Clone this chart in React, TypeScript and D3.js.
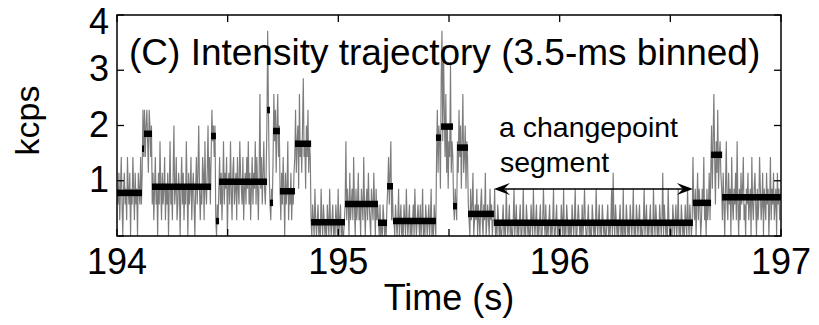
import React from 'react';
import * as d3 from 'd3';

// ---- data ----
const BIN_S = 0.0035; // 3.5-ms bins
const T_START = 194;
const xTicks = [194, 194.5, 195, 195.5, 196, 196.5, 197];
const xTickLabels = ['194', '', '195', '', '196', '', '197'];
const yTicks = [0, 1, 2, 3, 4];
const yTickLabels = ['', '1', '2', '3', '4'];

// photon counts per 3.5-ms bin (kcps = counts / 3.5)
const countsA = [
  3,2,4,1,3,5,2,0,3,4,2,3,1,5,3,2,4,0,3,2,5,3,1,4,2,3,0,4,3,2,5,2,
  4,8,5,
  8,5,7,8,6,4,8,7,5,7,
  2,4,1,3,5,2,3,0,4,2,6,3,1,4,2,3,5,1,3,2,4,0,3,6,2,3,1,4,7,2,3,5,1,2,4,3,0,3,5,2,
  4,1,3,2,6,3,0,4,2,3,5,1,3,4,2,0,3,5,2,4,7,3,1,3,2,5,4,1,6,3,2,4,7,3,5,2,
  5,8,6,7,5,7,
  1,0,2,1,
  3,5,2,4,1,3,6,2,4,3,5,0,3,4,2,6,3,1,4,5,2,3,4,1,5,3,2,6,4,3,2,5,1,3,4,2,5,3,6,2,
  4,1,3,5,2,4,3,6,2,5,3,1,4,9,3,5,2,4,6,3,2,4,
  7,13,8,4,
  2,1,3,2,
  5,9,6,8,4,7,9,5,7,
  3,1,4,2,5,3,0,4,2,3,6,1,3,2,4,1,3,2,4,
  5,8,4,6,7,3,9,5,6,4,7,10,5,6,3,7,5,8,4,6,5,
];
const countsB = [
  1,0,2,1,0,3,1,0,1,2,0,1,0,3,1,0,2,1,0,1,0,2,1,0,3,1,0,1,2,0,1,0,2,1,0,3,0,1,2,0,1,0,0,1,
  2,6,1,3,2,0,4,1,2,3,1,5,2,0,3,1,2,4,1,2,0,3,2,1,5,2,0,2,3,1,4,2,1,0,3,2,1,4,2,0,3,1,2,
  1,0,2,0,1,0,2,1,0,1,0,2,
  3,5,2,4,6,1,3,1,
  1,0,2,1,0,1,3,0,1,2,0,1,0,2,1,0,3,1,0,1,2,0,1,0,1,2,0,3,1,0,1,2,1,0,2,0,1,3,0,1,
  0,2,1,0,1,2,0,1,3,0,1,0,2,1,0,
  5,8,4,7,6,3,10,
  13,6,12,8,5,9,4,7,3,6,5,11,4,6,5,
  2,1,3,2,1,
  6,4,8,5,7,3,6,9,4,5,7,3,6,5,
  2,1,0,3,1,2,4,0,1,2,1,3,0,2,1,0,2,3,1,0,2,1,4,0,1,2,1,0,3,1,2,0,1,
];
const countsC = [
  1,3,0,1,0,2,1,0,1,0, 0,1,2,0,1,0,3,1,0,1, 2,0,1,0,0,1,3,0,1,2, 0,1,0,1,2,0,0,1,3,0,
  1,0,2,1,0,1,0,0,2,1, 0,3,1,0,1,2,0,1,0,1, 2,0,0,1,3,1,0,2,0,1, 0,1,2,0,1,0,1,3,0,0,
  1,2,0,1,0,1,0,2,1,0, 3,0,1,0,2,1,0,1,0,1, 0,2,1,0,1,3,0,0,1,2, 1,0,1,0,2,0,1,3,1,0,
  0,1,2,0,1,0,0,2,1,0, 1,0,3,1,0,1,2,0,1,0, 2,1,0,1,0,0,1,2,0,1, 0,1,3,0,4,1,0,2,1,0,
  1,0,1,2,0,1,0,3,0,1, 0,2,1,0,1,0,2,1,0,1, 3,0,1,0,2,1,0,1,2,0, 1,0,0,1,3,0,1,2,0,1,
  0,1,2,0,1,0,3,1,0,2, 1,0,1,0,2,1,0,1,4,0, 2,1,0,1,0,3,1,0,1,0, 0,2,1,0,1,2,0,1,3,0,
  1,0,2,1,0,1,0,2,1,0, 3,1,0,2,1,0,1,
];
const countsD = [
  5,2,1,3,0,2,4,1,3,2,0,1,3,2,5,1,2,0,3,1,2,4,1,
  4,7,3,6,9,5,2,6,4,8,3,5,6,4,
  3,1,4,2,0,3,6,2,1,4,2,3,0,5,2,1,3,2,4,1,6,2,0,3,1,4,2,3,5,1,2,0,3,2,4,1,2,3,0,5,
  2,1,3,4,2,0,3,1,2,5,3,1,2,4,0,3,2,1,4,2,3,0,2,5,1,3,2,4,1,2,3,0,4,2,3,1,
];

// changepoint times (s) and the fitted intensity level of each segment (kcps)
const changeTimes = [
  194.000, 194.113, 194.122, 194.158, 194.425, 194.447, 194.461, 194.678, 194.691,
  194.705, 194.736, 194.804, 194.877, 195.030, 195.179, 195.220, 195.247, 195.441,
  195.464, 195.518, 195.536, 195.586, 195.703, 196.602, 196.684, 196.734, 197.000,
];
const levels = [
  0.78, 1.58, 1.85, 0.89, 1.81, 0.27, 0.98, 2.28, 0.6, 1.9, 0.81, 1.67, 0.25,
  0.58, 0.24, 0.9, 0.27, 1.78, 1.98, 0.54, 1.6, 0.4, 0.24, 0.6, 1.47, 0.7,
];
const highlightSegment = 22; // "a changepoint segment"
const arrowLevel = 0.85;

const W = 819;
const H = 325;
const M = { left: 117, right: 781, top: 15, bottom: 236 };
const FONT = '"Liberation Sans", Arial, Helvetica, sans-serif';

export default function App() {
  const x = d3.scaleLinear().domain([194, 197]).range([M.left, M.right]);
  const y = d3.scaleLinear().domain([0, 4]).range([M.bottom, M.top]);

  const counts = [...countsA, ...countsB, ...countsC, ...countsD];
  const trace = counts.map((c, i) => ({ t: T_START + (i + 0.5) * BIN_S, v: c / (BIN_S * 1000) }));
  const line = d3.line<{ t: number; v: number }>().x(d => x(d.t)).y(d => y(d.v));

  const segs = levels.map((lv, i) => ({ t0: changeTimes[i], t1: changeTimes[i + 1], v: lv }));

  const ax0 = x(changeTimes[highlightSegment]);
  const ax1 = x(changeTimes[highlightSegment + 1]);
  const ay = y(arrowLevel);
  const head = (tipX: number, dir: number) => {
    const L = 16, hw = 6, notch = 10;
    return `M${tipX},${ay} L${tipX + dir * L},${ay - hw} L${tipX + dir * notch},${ay} L${tipX + dir * L},${ay + hw} Z`;
  };

  const tickLen = 7;

  return (
    <svg width={W} height={H} style={{ position: 'absolute', left: 0, top: 0, background: '#fff' }}
      fontFamily={FONT}>
      <defs>
        <clipPath id="plot">
          <rect x={M.left} y={M.top} width={M.right - M.left} height={M.bottom - M.top} />
        </clipPath>
      </defs>
      <rect width={W} height={H} fill="#fff" />
      <g clipPath="url(#plot)">
        <path d={line(trace) || ''} fill="none" stroke="#7c7c7c" strokeWidth={1.15} />
        {segs.map((s, i) => (
          <line key={i} x1={x(s.t0)} x2={x(s.t1)} y1={y(s.v)} y2={y(s.v)}
            stroke="#000" strokeWidth={6.5} />
        ))}
      </g>

      {/* box */}
      <rect x={M.left} y={M.top} width={M.right - M.left} height={M.bottom - M.top}
        fill="none" stroke="#000" strokeWidth={1.5} />
      {xTicks.map((t, i) => (
        <g key={'xt' + i}>
          <line x1={x(t)} x2={x(t)} y1={M.bottom} y2={M.bottom - tickLen} stroke="#000" strokeWidth={1.3} />
          <line x1={x(t)} x2={x(t)} y1={M.top} y2={M.top + tickLen} stroke="#000" strokeWidth={1.3} />
          {xTickLabels[i] && (
            <text x={x(t)} y={274} fontSize={36} textAnchor="middle" fill="#000">{xTickLabels[i]}</text>
          )}
        </g>
      ))}
      {yTicks.map((v, i) => (
        <g key={'yt' + i}>
          <line x1={M.left} x2={M.left + tickLen} y1={y(v)} y2={y(v)} stroke="#000" strokeWidth={1.3} />
          <line x1={M.right} x2={M.right - tickLen} y1={y(v)} y2={y(v)} stroke="#000" strokeWidth={1.3} />
          {yTickLabels[i] && (
            <text x={109} y={Math.max(y(v) + 11, 34)} fontSize={36} textAnchor="end" fill="#000">{yTickLabels[i]}</text>
          )}
        </g>
      ))}

      <text x={(M.left + M.right) / 2} y={310} fontSize={36} textAnchor="middle" fill="#000">Time (s)</text>
      <text transform={`translate(39,${(M.top + M.bottom) / 2 - 5}) rotate(-90)`} fontSize={34}
        textAnchor="middle" fill="#000">kcps</text>

      <text x={129} y={65} fontSize={37} fill="#000">(C) Intensity trajectory (3.5-ms binned)</text>

      <text x={ax0 + 5} y={137} fontSize={28.5} fill="#000">a changepoint</text>
      <text x={ax0 + 6} y={172} fontSize={28.5} fill="#000">segment</text>
      <line x1={ax0 + 8} x2={ax1 - 8} y1={ay} y2={ay} stroke="#000" strokeWidth={1.6} />
      <path d={head(ax0, 1)} fill="#000" />
      <path d={head(ax1, -1)} fill="#000" />
    </svg>
  );
}
